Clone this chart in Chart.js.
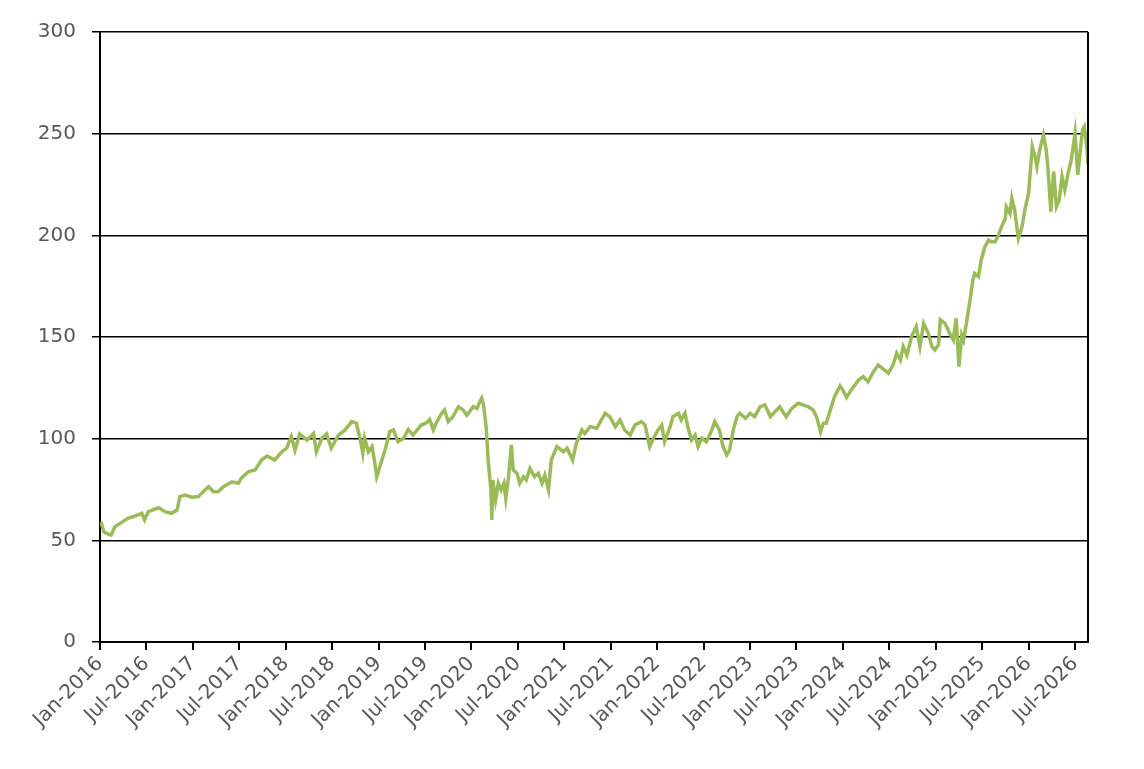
<!DOCTYPE html>
<html>
<head>
<meta charset="utf-8">
<script src="https://cdn.jsdelivr.net/npm/chart.js@4"></script>
<style>
    html, body { margin: 0; padding: 0; background: #ffffff; }
    #wrap { width: 1144px; height: 769px; }
</style>
</head>
<body>
<div id="wrap"><canvas id="grafico"></canvas></div>
<script>
// datas em anos decimais
const anos = [
    2016.01, 2016.04, 2016.07, 2016.12, 2016.16, 2016.23, 2016.30, 2016.38, 2016.45, 2016.48,
    2016.52, 2016.63, 2016.70, 2016.77, 2016.83, 2016.86, 2016.92, 2016.99, 2017.06, 2017.13,
    2017.17, 2017.22, 2017.27, 2017.33, 2017.42, 2017.49, 2017.52, 2017.60, 2017.67, 2017.74,
    2017.80, 2017.88, 2017.96, 2018.01, 2018.06, 2018.10, 2018.15, 2018.23, 2018.30, 2018.33,
    2018.39, 2018.44, 2018.49, 2018.57, 2018.64, 2018.71, 2018.76, 2018.80, 2018.83, 2018.85,
    2018.89, 2018.93, 2018.96, 2018.98, 2019.02, 2019.07, 2019.12, 2019.16, 2019.21, 2019.27,
    2019.32, 2019.37, 2019.43, 2019.46, 2019.52, 2019.55, 2019.59, 2019.62, 2019.68, 2019.71,
    2019.75, 2019.80, 2019.86, 2019.91, 2019.95, 2019.98, 2020.02, 2020.06, 2020.09, 2020.11,
    2020.13, 2020.16, 2020.18, 2020.21, 2020.22, 2020.23, 2020.26, 2020.29, 2020.32, 2020.35,
    2020.37, 2020.40, 2020.43, 2020.45, 2020.49, 2020.52, 2020.56, 2020.59, 2020.63, 2020.68,
    2020.72, 2020.76, 2020.79, 2020.83, 2020.86, 2020.92, 2020.99, 2021.03, 2021.09, 2021.13,
    2021.19, 2021.22, 2021.28, 2021.35, 2021.38, 2021.44, 2021.49, 2021.55, 2021.60, 2021.65,
    2021.71, 2021.76, 2021.83, 2021.87, 2021.92, 2021.96, 2022.01, 2022.05, 2022.08, 2022.14,
    2022.17, 2022.23, 2022.26, 2022.30, 2022.33, 2022.37, 2022.41, 2022.44, 2022.48, 2022.53,
    2022.59, 2022.62, 2022.67, 2022.71, 2022.75, 2022.78, 2022.82, 2022.86, 2022.89, 2022.95,
    2023.00, 2023.05, 2023.11, 2023.16, 2023.22, 2023.27, 2023.32, 2023.39, 2023.45, 2023.52,
    2023.57, 2023.63, 2023.68, 2023.72, 2023.76, 2023.79, 2023.82, 2023.86, 2023.91, 2023.97,
    2024.00, 2024.04, 2024.09, 2024.17, 2024.22, 2024.27, 2024.33, 2024.38, 2024.44, 2024.49,
    2024.54, 2024.58, 2024.62, 2024.65, 2024.69, 2024.74, 2024.79, 2024.83, 2024.87, 2024.92,
    2024.96, 2024.99, 2025.03, 2025.05, 2025.10, 2025.15, 2025.19, 2025.22, 2025.25, 2025.28,
    2025.30, 2025.33, 2025.37, 2025.40, 2025.42, 2025.46, 2025.49, 2025.53, 2025.57, 2025.60,
    2025.64, 2025.67, 2025.71, 2025.75, 2025.76, 2025.80, 2025.82, 2025.85, 2025.89, 2025.93,
    2025.96, 2026.00, 2026.02, 2026.04, 2026.07, 2026.09, 2026.12, 2026.16, 2026.19, 2026.21,
    2026.24, 2026.27, 2026.30, 2026.33, 2026.36, 2026.39, 2026.43, 2026.46, 2026.50, 2026.53,
    2026.55, 2026.58, 2026.60, 2026.63, 2026.64
];

const valores = [
    59.2, 54.3, 53.4, 52.6, 56.7, 58.7, 60.8, 62.0, 63.3, 60.0,
    64.1, 66.0, 64.1, 63.3, 64.9, 71.5, 72.3, 71.2, 71.5, 74.8,
    76.4, 73.9, 73.9, 76.4, 78.8, 78.1, 80.5, 83.8, 84.6, 89.5,
    91.5, 89.5, 93.6, 95.3, 101.0, 94.4, 102.3, 99.3, 102.6, 93.6,
    100.2, 102.3, 95.3, 101.8, 104.3, 108.4, 107.6, 100.2, 92.8, 100.2,
    93.6, 96.1, 87.9, 81.3, 87.1, 94.4, 103.4, 104.3, 98.5, 100.2,
    104.6, 101.8, 105.1, 106.7, 107.9, 109.5, 104.3, 107.6, 112.5, 114.1,
    108.4, 110.8, 115.7, 114.1, 111.6, 113.3, 115.7, 114.9, 118.2, 119.9,
    116.6, 105.1, 89.5, 74.8, 60.0, 79.7, 69.8, 78.1, 74.8, 78.1,
    70.7, 81.3, 96.9, 84.6, 83.0, 78.1, 81.3, 79.7, 85.4, 81.3,
    83.0, 78.1, 82.1, 74.8, 89.5, 96.1, 93.6, 95.3, 89.5, 97.7,
    104.3, 102.6, 105.9, 105.1, 107.6, 112.5, 110.8, 105.9, 109.2, 104.3,
    101.8, 106.7, 108.4, 106.7, 96.1, 100.2, 104.3, 106.7, 98.5, 105.9,
    110.8, 112.5, 109.2, 112.5, 105.9, 99.3, 101.8, 96.1, 100.2, 98.5,
    104.3, 108.4, 104.3, 96.1, 92.0, 94.4, 104.3, 110.8, 112.5, 110.0,
    112.5, 110.8, 115.7, 116.6, 110.8, 113.3, 115.7, 110.8, 114.9, 117.4,
    116.6, 115.7, 114.1, 110.4, 103.4, 107.6, 107.6, 113.3, 120.6, 125.9,
    123.9, 120.3, 123.9, 128.9, 130.5, 128.0, 132.9, 136.2, 134.1, 132.2,
    136.2, 142.0, 138.7, 145.2, 141.1, 150.2, 155.1, 145.2, 156.7, 151.8,
    145.2, 143.6, 146.1, 158.4, 156.7, 151.8, 148.5, 159.2, 135.4, 151.0,
    148.5, 156.7, 168.2, 178.0, 181.3, 179.7, 187.9, 194.4, 197.7, 196.9,
    196.9, 199.4, 204.3, 208.4, 214.1, 210.8, 218.2, 212.5, 198.5, 204.3,
    212.5, 220.7, 232.2, 243.6, 238.7, 233.8, 242.0, 249.3, 242.0, 232.2,
    211.6, 231.4, 214.1, 217.4, 228.9, 222.3, 231.4, 237.1, 250.2, 229.7,
    238.7, 251.8, 253.4, 242.0, 234.6
];

const meses = ['Jan', 'Jul'];
const valoresEixoY = [0, 50, 100, 150, 200, 250, 300];

const corTexto = '#595959';
const fonte = { family: "'DejaVu Sans', Verdana, sans-serif", size: 20 };

// borda direita da área do gráfico
const bordaDireita = {
    id: 'bordaDireita',
    afterDraw(chart) {
        const { ctx, chartArea } = chart;
        ctx.save();
        ctx.strokeStyle = '#000000';
        ctx.lineWidth = 2;
        ctx.beginPath();
        ctx.moveTo(chartArea.right, chartArea.top);
        ctx.lineTo(chartArea.right, chartArea.bottom);
        ctx.stroke();
        ctx.restore();
    }
};

const pontos = anos.map((a, i) => ({ x: a, y: valores[i] }));

const ctx = document.getElementById('grafico').getContext('2d');
const grafico = new Chart(ctx, {
    type: 'line',
    data: {
        datasets: [{
            label: 'Série',
            data: pontos,
            borderColor: '#9BBB59',
            borderWidth: 3.5,
            pointRadius: 0,
            tension: 0,
            fill: false
        }]
    },
    options: {
        responsive: true,
        maintainAspectRatio: false,
        animation: false,
        events: [],
        layout: { padding: { top: 32, right: 56, left: 0, bottom: 0 } },
        plugins: {
            legend: { display: false },
            tooltip: { enabled: false }
        },
        scales: {
            x: {
                type: 'linear',
                min: 2016,
                max: 2026.64,
                afterFit: (scale) => { scale.height = 127; },
                border: { display: true, color: '#000000', width: 2 },
                grid: { drawOnChartArea: false, drawTicks: true, tickLength: 8, color: '#000000', lineWidth: 2 },
                ticks: {
                    stepSize: 0.5,
                    includeBounds: false,
                    autoSkip: false,
                    maxRotation: 45,
                    minRotation: 45,
                    padding: 2,
                    color: corTexto,
                    font: fonte,
                    callback: function (v) {
                        const metade = Math.round(v * 2);
                        if (Math.abs(v * 2 - metade) > 0.01) return null;
                        const ano = Math.floor(metade / 2);
                        return meses[metade % 2] + '-' + ano;
                    }
                }
            },
            y: {
                min: valoresEixoY[0],
                max: valoresEixoY[valoresEixoY.length - 1],
                afterFit: (scale) => { scale.width = 100; },
                border: { display: true, color: '#000000', width: 2 },
                grid: { drawTicks: true, tickLength: 8, color: '#000000', lineWidth: 1.5 },
                ticks: {
                    stepSize: 50,
                    padding: 16,
                    color: corTexto,
                    font: fonte
                }
            }
        }
    },
    plugins: [bordaDireita]
});
</script>
</body>
</html>
